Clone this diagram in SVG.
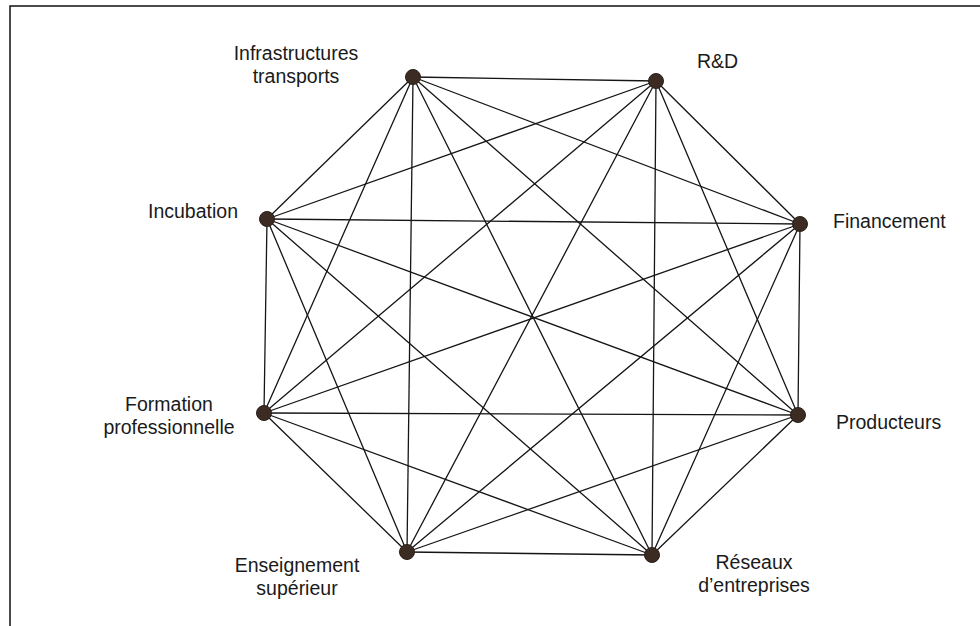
<svg xmlns="http://www.w3.org/2000/svg" width="980" height="626" viewBox="0 0 980 626">
<style>
.frame{stroke:#111;stroke-width:1.5;fill:none}
.edge{stroke:#151515;stroke-width:1.3;fill:none;stroke-linecap:round}
.node{fill:#3b2b22;stroke:#2a1e18;stroke-width:1}
.lbl{font-family:"Liberation Sans",Arial,sans-serif;font-size:19.5px;fill:#1a1a1a}
</style>
<rect width="980" height="626" fill="#ffffff"/>
<path class="frame" d="M10,626 V6 H980"/>
<g id="connectors">
<line class="edge" x1="413" y1="77" x2="656" y2="81"/>
<line class="edge" x1="413" y1="77" x2="800" y2="224"/>
<line class="edge" x1="413" y1="77" x2="798" y2="415"/>
<line class="edge" x1="413" y1="77" x2="652" y2="555"/>
<line class="edge" x1="413" y1="77" x2="407" y2="552"/>
<line class="edge" x1="413" y1="77" x2="264" y2="413"/>
<line class="edge" x1="413" y1="77" x2="267" y2="219"/>
<line class="edge" x1="656" y1="81" x2="800" y2="224"/>
<line class="edge" x1="656" y1="81" x2="798" y2="415"/>
<line class="edge" x1="656" y1="81" x2="652" y2="555"/>
<line class="edge" x1="656" y1="81" x2="407" y2="552"/>
<line class="edge" x1="656" y1="81" x2="264" y2="413"/>
<line class="edge" x1="656" y1="81" x2="267" y2="219"/>
<line class="edge" x1="800" y1="224" x2="798" y2="415"/>
<line class="edge" x1="800" y1="224" x2="652" y2="555"/>
<line class="edge" x1="800" y1="224" x2="407" y2="552"/>
<line class="edge" x1="800" y1="224" x2="264" y2="413"/>
<line class="edge" x1="800" y1="224" x2="267" y2="219"/>
<line class="edge" x1="798" y1="415" x2="652" y2="555"/>
<line class="edge" x1="798" y1="415" x2="407" y2="552"/>
<line class="edge" x1="798" y1="415" x2="264" y2="413"/>
<line class="edge" x1="798" y1="415" x2="267" y2="219"/>
<line class="edge" x1="652" y1="555" x2="407" y2="552"/>
<line class="edge" x1="652" y1="555" x2="264" y2="413"/>
<line class="edge" x1="652" y1="555" x2="267" y2="219"/>
<line class="edge" x1="407" y1="552" x2="264" y2="413"/>
<line class="edge" x1="407" y1="552" x2="267" y2="219"/>
<line class="edge" x1="264" y1="413" x2="267" y2="219"/>
</g>
<g id="infrastructures">
<circle class="node" cx="413" cy="77" r="7.5"/>
<text class="lbl" x="296" y="60" text-anchor="middle">Infrastructures</text>
<text class="lbl" x="296" y="83" text-anchor="middle">transports</text>
</g>
<g id="rd">
<circle class="node" cx="656" cy="81" r="7.5"/>
<text class="lbl" x="697" y="68">R&amp;D</text>
</g>
<g id="financement">
<circle class="node" cx="800" cy="224" r="7.5"/>
<text class="lbl" x="833" y="228">Financement</text>
</g>
<g id="producteurs">
<circle class="node" cx="798" cy="415" r="7.5"/>
<text class="lbl" x="836" y="429">Producteurs</text>
</g>
<g id="reseaux">
<circle class="node" cx="652" cy="555" r="7.5"/>
<text class="lbl" x="754" y="569" text-anchor="middle">Réseaux</text>
<text class="lbl" x="754" y="592" text-anchor="middle">d’entreprises</text>
</g>
<g id="enseignement">
<circle class="node" cx="407" cy="552" r="7.5"/>
<text class="lbl" x="297" y="572" text-anchor="middle">Enseignement</text>
<text class="lbl" x="297" y="595" text-anchor="middle">supérieur</text>
</g>
<g id="formation">
<circle class="node" cx="264" cy="413" r="7.5"/>
<text class="lbl" x="169" y="411" text-anchor="middle">Formation</text>
<text class="lbl" x="169" y="434" text-anchor="middle">professionnelle</text>
</g>
<g id="incubation">
<circle class="node" cx="267" cy="219" r="7.5"/>
<text class="lbl" x="238" y="218" text-anchor="end">Incubation</text>
</g>
</svg>
